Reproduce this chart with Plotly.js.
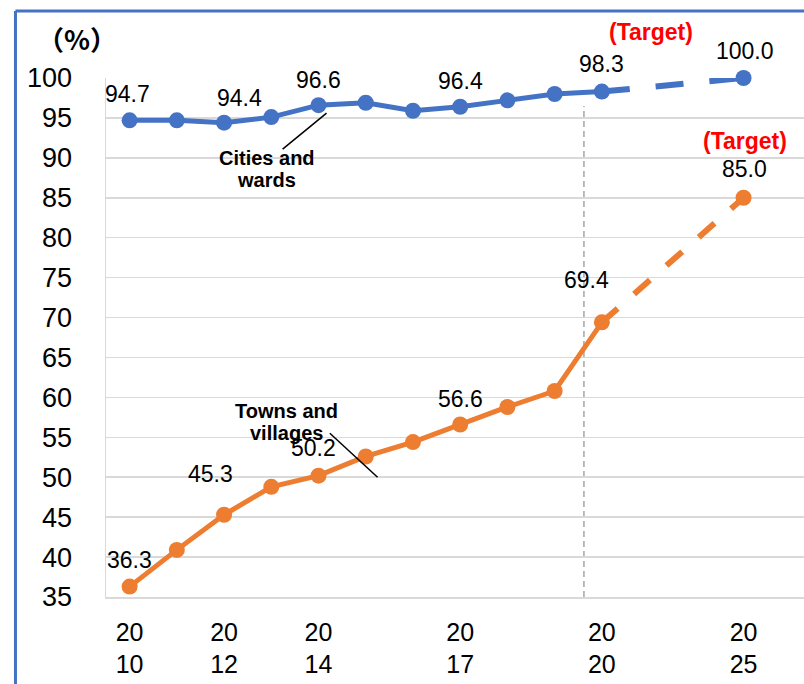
<!DOCTYPE html>
<html>
<head>
<meta charset="utf-8">
<script src="https://cdn.plot.ly/plotly-3.0.1.min.js"></script>
<style>
  html, body { margin: 0; padding: 0; background: #ffffff; }
  #chart { width: 804px; height: 684px; }
</style>
</head>
<body>
<div id="chart"></div>
<script>
// ---- data ----
const years = ['2010','2011','2012','2013','2014','2015','2016','2017','2018','2019','2020'];
const cities = [94.7, 94.7, 94.4, 95.1, 96.6, 96.9, 95.9, 96.4, 97.2, 98.0, 98.3];
const towns  = [36.3, 40.9, 45.3, 48.8, 50.2, 52.6, 54.4, 56.6, 58.8, 60.8, 69.4];
const targetYear = '2025';
const citiesTarget = 100.0;
const townsTarget = 85.0;
const gapSlots = ['gap1', 'gap2'];
const tickYears = ['2010', '2012', '2014', '2017', '2020', '2025'];
const citiesName = ['Cities and', 'wards'];
const townsName = ['Towns and', 'villages'];
const targetText = '(Target)';
const unitText = '（%）';

// ---- styles ----
const BLUE = '#4472C4';
const ORANGE = '#ED7D31';
const FONT = '"Liberation Sans", Arial, sans-serif';
const CJK = '"Noto Sans CJK JP", "Noto Sans CJK SC", sans-serif';
const lastYear = years[years.length - 1];

const categoryOrder = years.concat(gapSlots, [targetYear]);
const idx = y => categoryOrder.indexOf(y);
const tickText = tickYears.map(y => y.slice(0, 2) + '<br>' + y.slice(2));

function solidTrace(y, color) {
  return {
    type: 'scatter', mode: 'lines+markers', x: years.map(idx), y: y,
    line: { color: color, width: 5 },
    marker: { color: color, size: 16 },
    cliponaxis: false,
    hoverinfo: 'skip', showlegend: false
  };
}
function dashTrace(yStart, yEnd, color, dash) {
  return {
    type: 'scatter', mode: 'lines', x: [idx(lastYear), idx(targetYear)], y: [yStart, yEnd],
    line: { color: color, width: 6, dash: dash },
    cliponaxis: false,
    hoverinfo: 'skip', showlegend: false
  };
}
function targetMarker(y, color) {
  return {
    type: 'scatter', mode: 'markers', x: [idx(targetYear)], y: [y],
    marker: { color: color, size: 16 },
    cliponaxis: false,
    hoverinfo: 'skip', showlegend: false
  };
}

const traces = [
  dashTrace(cities[cities.length - 1], citiesTarget, BLUE, '28px,26px'),
  dashTrace(towns[towns.length - 1], townsTarget, ORANGE, '21px,22px'),
  solidTrace(cities, BLUE),
  solidTrace(towns, ORANGE),
  targetMarker(citiesTarget, BLUE),
  targetMarker(townsTarget, ORANGE)
];

// data labels (index -> [xshift, yshift])
const cityLabelPos = { 0: [-2, 26], 2: [15, 25], 4: [0, 25], 7: [0, 26], 10: [0, 28] };
const townLabelPos = { 0: [0, 27], 2: [-14, 41], 4: [-5, 28], 7: [0, 26], 10: [-15, 42] };

const annotations = [];
function addLabel(x, y, sx, sy) {
  annotations.push({
    x: x, y: y, xref: 'x', yref: 'y', text: y.toFixed(1), showarrow: false,
    xshift: sx, yshift: sy, font: { family: FONT, size: 23, color: '#000000' }
  });
}
Object.keys(cityLabelPos).forEach(k => addLabel(idx(years[k]), cities[k], cityLabelPos[k][0], cityLabelPos[k][1]));
Object.keys(townLabelPos).forEach(k => addLabel(idx(years[k]), towns[k], townLabelPos[k][0], townLabelPos[k][1]));
addLabel(idx(targetYear), citiesTarget, 1, 27);
addLabel(idx(targetYear), townsTarget, 1, 29);

// target notes
annotations.push({ x: idx(targetYear), y: citiesTarget, xref: 'x', yref: 'y', text: '<b>' + targetText + '</b>',
  showarrow: false, xshift: -93, yshift: 46, font: { family: FONT, size: 23, color: '#FF0000' } });
annotations.push({ x: idx(targetYear), y: townsTarget, xref: 'x', yref: 'y', text: '<b>' + targetText + '</b>',
  showarrow: false, xshift: 1, yshift: 57, font: { family: FONT, size: 23, color: '#FF0000' } });

// series name callouts (one annotation per line, tight line spacing)
function addName(lines, x, y) {
  lines.forEach((t, i) => annotations.push({
    x: x, y: y, xref: 'x', yref: 'y', text: '<b>' + t + '</b>', showarrow: false,
    yshift: (lines.length - 1) * 11 - i * 22,
    font: { family: FONT, size: 20, color: '#000000' }
  }));
}
addName(citiesName, 2.9, 88.6);
addName(townsName, 3.33, 56.9);

// unit label
annotations.push({ x: -0.0415, y: 1.077, xref: 'paper', yref: 'paper', xanchor: 'center', yanchor: 'middle',
  text: '<b>' + unitText + '</b>',
  showarrow: false, font: { family: CJK, size: 27, color: '#000000' } });

const shapes = [
  // leader lines
  { type: 'line', xref: 'x', yref: 'y', x0: 3.24, y0: 91.1, x1: 4.17, y1: 95.6, line: { color: '#000000', width: 1.5 } },
  { type: 'line', xref: 'x', yref: 'y', x0: 4.24, y0: 55.5, x1: 5.25, y1: 50.0, line: { color: '#000000', width: 1.5 } },
  // vertical dashed reference line
  { type: 'line', xref: 'x', yref: 'y', x0: 9.62, y0: 35, x1: 9.62, y1: 96.5, layer: 'below',
    line: { color: '#A6A6A6', width: 1.5, dash: '6px,4px' } },
  // outer blue frame (left and top)
  { type: 'line', xref: 'paper', yref: 'paper', x0: -0.1297, y0: 1.129, x1: 1.02, y1: 1.129, line: { color: BLUE, width: 3 } },
  { type: 'line', xref: 'paper', yref: 'paper', x0: -0.1297, y0: 1.129, x1: -0.1297, y1: -0.2, line: { color: BLUE, width: 3 } }
];

const layout = {
  width: 804, height: 684,
  margin: { l: 106, r: 0, t: 78, b: 87, pad: 0 },
  paper_bgcolor: '#ffffff', plot_bgcolor: '#ffffff',
  showlegend: false,
  font: { family: FONT, color: '#000000' },
  xaxis: {
    type: 'linear',
    range: [-0.5, 14.28], tickmode: 'array', tickvals: tickYears.map(idx), ticktext: tickText,
    showgrid: false, zeroline: false, showline: true, linecolor: '#D9D9D9', linewidth: 1.5,
    ticks: '', ticklabelstandoff: 12,
    tickfont: { family: FONT, size: 25, color: '#000000' }, fixedrange: true
  },
  yaxis: {
    range: [35, 100], tickmode: 'linear', tick0: 35, dtick: 5,
    showgrid: true, gridcolor: '#D9D9D9', gridwidth: 1.5, zeroline: false,
    showline: true, linecolor: '#D9D9D9', linewidth: 1.5,
    ticks: '', ticklabelstandoff: 27,
    tickfont: { family: FONT, size: 27, color: '#000000' }, fixedrange: true
  },
  annotations: annotations,
  shapes: shapes
};

Plotly.newPlot('chart', traces, layout, { displayModeBar: false, staticPlot: true });
</script>
</body>
</html>
